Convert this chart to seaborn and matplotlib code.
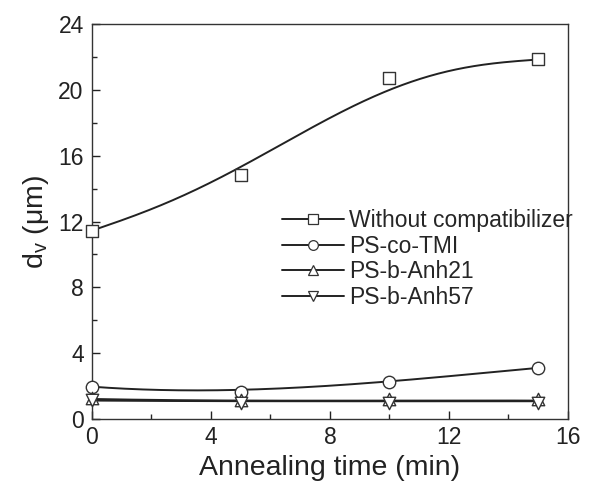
import numpy as np
import pandas as pd
import matplotlib
matplotlib.use("Agg")
import matplotlib.pyplot as plt
import seaborn as sns
from matplotlib.lines import Line2D
from matplotlib.ticker import MultipleLocator

# ---- data ----
time_min = [0, 5, 10, 15]
without_comp = [11.45, 14.85, 20.75, 21.85]
ps_co_tmi = [1.95, 1.62, 2.25, 3.1]
ps_b_anh21 = [1.25, 1.15, 1.2, 1.2]
ps_b_anh57 = [1.15, 0.95, 0.95, 1.0]

# fitted-curve values (the smooth lines)
fit_time_a = [0, 2, 4, 6, 8, 10, 12, 14, 15]
fit_without = [11.45, 12.75, 14.4, 16.3, 18.3, 20.0, 21.15, 21.7, 21.85]
fit_time_b = [0, 2.5, 5, 7.5, 10, 12.5, 15]
fit_tmi = [1.95, 1.8, 1.75, 1.95, 2.3, 2.7, 3.1]
fit_anh21 = [1.22, 1.15, 1.12, 1.12, 1.12, 1.12, 1.12]
fit_anh57 = [1.12, 1.1, 1.08, 1.08, 1.08, 1.08, 1.08]

labels = ["Without compatibilizer", "PS-co-TMI", "PS-b-Anh21", "PS-b-Anh57"]
markers = ["s", "o", "^", "v"]
x_ticks = [0, 4, 8, 12, 16]
y_ticks = [0, 4, 8, 12, 16, 20, 24]

sns.set_theme(style="ticks")
plt.rcParams["font.family"] = ["Liberation Sans", "DejaVu Sans"]
plt.rcParams["mathtext.fontset"] = "custom"
plt.rcParams["mathtext.rm"] = "Liberation Sans"

fig = plt.figure(figsize=(5.95, 4.91), dpi=100)
ax = fig.add_axes([0.1546, 0.1466, 0.8, 0.8044])

series = [without_comp, ps_co_tmi, ps_b_anh21, ps_b_anh57]
fits = [(fit_time_a, fit_without, 5), (fit_time_b, fit_tmi, 3),
        (fit_time_b, fit_anh21, 3), (fit_time_b, fit_anh57, 3)]
line_color = "#222222"
handles = []
for lab, mk, ys, (fx, fy, deg) in zip(labels, markers, series, fits):
    coeff = np.polyfit(fx, fy, deg)
    xs = np.linspace(fx[0], fx[-1], 300)
    df_fit = pd.DataFrame({"t": xs, "d": np.polyval(coeff, xs)})
    sns.lineplot(data=df_fit, x="t", y="d", ax=ax, color=line_color, lw=1.4, zorder=2)
    df = pd.DataFrame({"t": time_min, "d": ys})
    sns.scatterplot(data=df, x="t", y="d", ax=ax, marker=mk, s=80,
                    facecolor="white", edgecolor="#333333", linewidth=1.0, zorder=3,
                    clip_on=False)
    handles.append(Line2D([0], [0], color=line_color, lw=1.4, marker=mk, markersize=7,
                          markerfacecolor="white", markeredgecolor="#333333",
                          markeredgewidth=0.9))

ax.set_xlim(0, 16)
ax.set_ylim(0, 24)
ax.set_xticks(x_ticks)
ax.set_yticks(y_ticks)
ax.xaxis.set_minor_locator(MultipleLocator(2))
ax.yaxis.set_minor_locator(MultipleLocator(2))
ax.tick_params(which="major", direction="in", length=6, width=1, labelsize=16.5,
               colors="#222222", top=False, right=False)
ax.tick_params(axis="x", which="major", pad=5)
ax.tick_params(axis="y", which="major", pad=6)
ax.tick_params(which="minor", direction="in", length=3.5, width=1, top=False, right=False)
ax.set_xlabel("Annealing time (min)", fontsize=20.5, color="#222222", labelpad=4)
ax.set_ylabel(r"d$_\mathregular{v}$ ($\mathregular{\mu}$m)", fontsize=20.5, color="#222222", labelpad=5)
for sp in ax.spines.values():
    sp.set_linewidth(1.0)
    sp.set_color("#333333")

ax.legend(handles, labels, loc="upper left", bbox_to_anchor=(0.4, 0.532),
          frameon=False, fontsize=16.5, handlelength=2.7, handletextpad=0.2,
          labelspacing=0.12, borderaxespad=0, borderpad=0)

fig.savefig("out.png", dpi=100)
